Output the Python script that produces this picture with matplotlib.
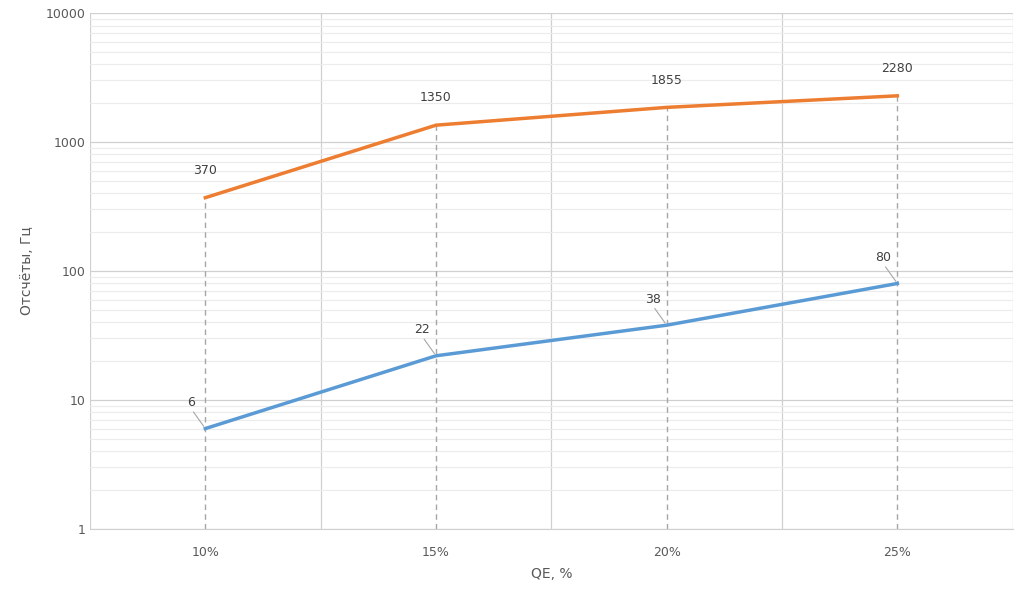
import matplotlib
matplotlib.use("Agg")
import matplotlib.pyplot as plt
from matplotlib.ticker import LogLocator, FixedLocator, NullFormatter

categories = ["10%", "15%", "20%", "25%"]
orange_vals = [370, 1350, 1855, 2280]
blue_vals = [6, 22, 38, 80]

fig = plt.figure(figsize=(10.25, 5.91), dpi=100)
ax = fig.add_axes([0.0878, 0.105, 0.9002, 0.873])
x = list(range(len(categories)))

ax.set_yscale("log")
ax.set_ylim(1, 10000)
ax.set_xlim(-0.5, len(categories) - 0.5)

ax.yaxis.set_minor_locator(LogLocator(base=10, subs=range(2, 10)))
ax.yaxis.set_minor_formatter(NullFormatter())
ax.set_yticks([1, 10, 100, 1000, 10000])
ax.set_yticklabels(["1", "10", "100", "1000", "10000"])
ax.set_xticks(x)
ax.set_xticklabels(categories)
ax.xaxis.set_minor_locator(FixedLocator([i + 0.5 for i in range(-1, len(categories))]))

ax.grid(which="minor", axis="y", color="#ececec", lw=0.8)
ax.grid(which="major", axis="y", color="#d0d0d0", lw=0.9)
ax.grid(which="minor", axis="x", color="#d0d0d0", lw=0.9)
ax.set_axisbelow(True)
for s in ["top", "right", "left"]:
    ax.spines[s].set_visible(False)
ax.spines["bottom"].set_color("#d0d0d0")
ax.tick_params(which="both", length=0, labelsize=9, colors="#595959")
ax.tick_params(axis="x", pad=12)

for xi, v in zip(x, orange_vals):
    ax.plot([xi, xi], [1, v], ls=(0, (4, 3)), color="#a6a6a6", lw=1, zorder=1)

ax.plot(x, orange_vals, color="#ED7D31", lw=2.5, zorder=3)
ax.plot(x, blue_vals, color="#5B9BD5", lw=2.5, zorder=3)

for xi, v in zip(x, orange_vals):
    ax.annotate(str(v), (xi, v), xytext=(0, 15), textcoords="offset points",
                ha="center", va="bottom", fontsize=9, color="#404040")
for xi, v in zip(x, blue_vals):
    ax.annotate(str(v), (xi, v), xytext=(-10, 14), textcoords="offset points",
                ha="center", va="bottom", fontsize=9, color="#404040",
                arrowprops=dict(arrowstyle="-", color="#a6a6a6", lw=0.8,
                                shrinkA=0, shrinkB=2, relpos=(0.5, 0)))

ax.set_xlabel("QE, %", fontsize=10, color="#595959", labelpad=6)
ax.set_ylabel("Отсчёты, Гц", fontsize=10, color="#595959", labelpad=8)

fig.savefig("out.png", dpi=100)
